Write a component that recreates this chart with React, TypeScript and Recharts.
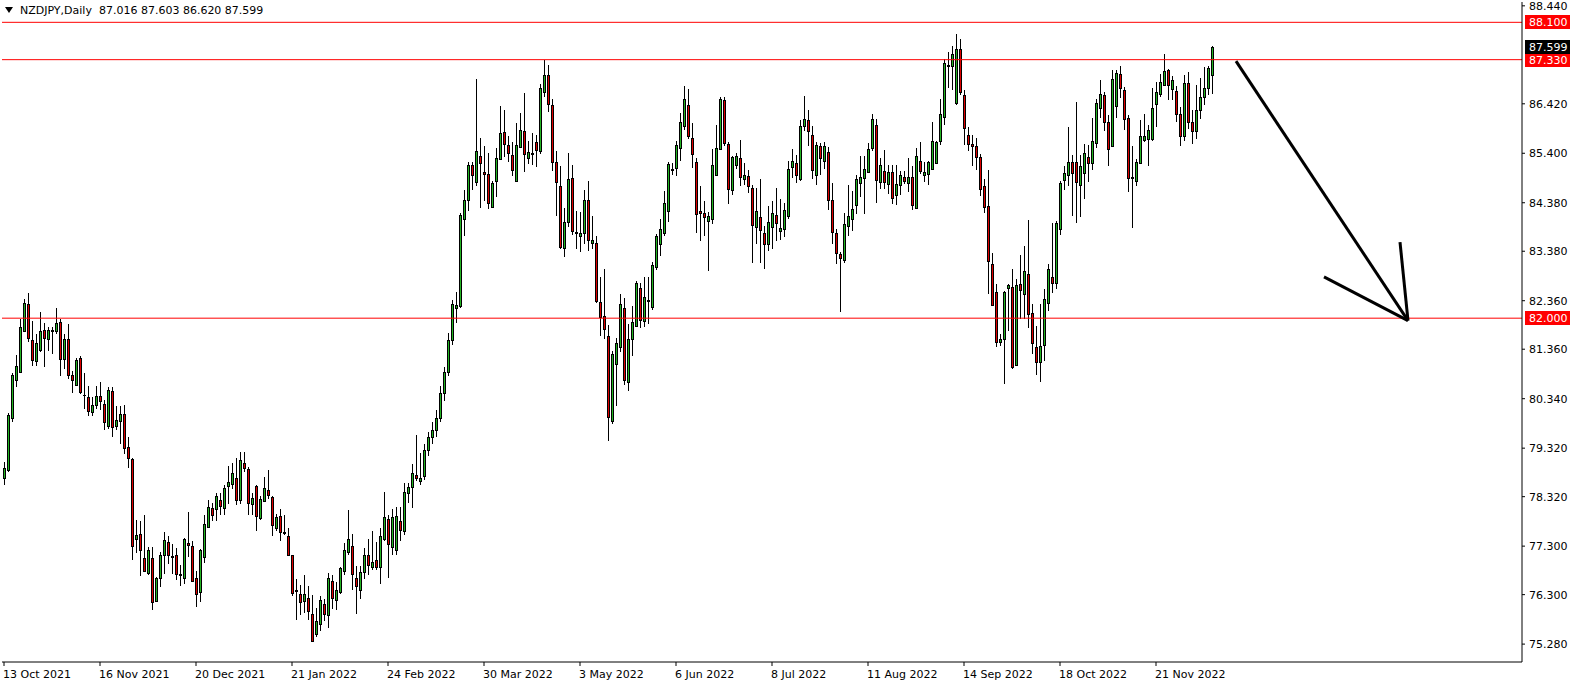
import React from 'react';
import { ComposedChart, Bar, XAxis, YAxis, ReferenceLine } from 'recharts';

// daily candles, 13 Oct 2021 .. Dec 2022
const opens = [
  78.71, 78.87, 79.94, 80.73, 80.88, 81.74, 82.29, 81.55, 81.12, 81.35, 81.75, 81.57, 81.73, 81.74, 81.93, 81.16, 81.58, 80.82, 80.62, 81.18,
  80.42, 80.37, 80.06, 80.20, 80.39, 80.23, 79.78, 80.49, 79.78, 79.89, 80.03, 79.34, 79.10, 77.45, 77.54, 77.06, 76.74, 77.06, 76.16, 76.64,
  77.11, 77.39, 77.09, 77.12, 76.72, 76.65, 77.36, 77.31, 76.64, 76.35, 77.08, 77.70, 78.09, 78.06, 78.26, 78.09, 78.54, 78.59, 78.71, 78.25,
  79.02, 78.90, 78.16, 78.54, 77.89, 78.23, 78.45, 78.32, 77.67, 77.93, 77.60, 77.50, 77.11, 76.39, 76.31, 76.16, 76.24, 75.90, 75.48, 75.70,
  76.10, 75.89, 76.59, 76.18, 76.35, 76.79, 77.17, 77.31, 76.64, 76.40, 76.76, 77.12, 76.86, 77.02, 76.88, 77.45, 77.85, 77.29, 77.22, 77.82,
  77.61, 78.40, 78.52, 78.76, 78.64, 78.75, 79.28, 79.55, 79.70, 79.95, 80.45, 80.90, 81.55, 82.20, 82.25, 84.05, 84.43, 85.16, 84.80, 85.35,
  85.01, 84.97, 84.30, 84.82, 85.28, 85.83, 85.57, 85.37, 84.82, 85.53, 85.86, 85.30, 85.41, 85.63, 85.44, 86.67, 87.01, 86.39, 85.22, 84.73,
  83.45, 83.99, 84.89, 83.78, 83.70, 83.76, 84.44, 83.55, 83.55, 82.34, 82.05, 81.64, 79.89, 81.06, 81.41, 82.22, 80.68, 81.58, 81.84, 82.63,
  81.95, 82.37, 82.23, 83.06, 83.53, 83.76, 84.21, 85.08, 85.10, 85.50, 85.96, 86.40, 85.71, 85.23, 84.20, 84.17, 84.00, 84.05, 84.96, 85.49,
  86.50, 85.59, 84.64, 85.15, 85.30, 84.87, 84.94, 84.68, 83.88, 84.09, 83.75, 83.52, 83.88, 84.12, 83.80, 83.84, 84.10, 85.12, 85.20, 84.86,
  85.97, 86.09, 85.78, 84.96, 85.55, 85.25, 85.42, 84.44, 83.76, 83.33, 83.20, 83.90, 84.05, 84.34, 84.79, 84.89, 85.01, 85.51, 85.98, 84.81,
  85.03, 84.77, 85.01, 84.55, 84.75, 84.92, 84.79, 84.91, 84.27, 85.25, 84.96, 84.97, 85.08, 85.20, 85.66, 86.14, 87.22, 87.20, 86.44, 87.55,
  86.60, 85.78, 85.59, 85.55, 85.32, 84.73, 84.31, 83.11, 82.53, 81.50, 81.57, 82.63, 82.65, 81.04, 82.70, 82.49, 82.92, 82.10, 81.40, 81.10,
  81.45, 82.32, 82.84, 82.72, 83.83, 84.85, 84.96, 85.22, 85.23, 84.75, 84.99, 85.32, 85.20, 85.61, 86.33, 86.61, 86.04, 85.54, 86.38, 87.03,
  86.70, 86.12, 84.92, 84.82, 85.20, 85.68, 85.70, 85.70, 86.41, 86.63, 86.81, 87.11, 86.72, 86.69, 86.20, 85.75, 86.84, 86.05, 85.85, 86.30,
  86.55, 86.74, 87.016,
];
const highs = [
  79.04, 80.04, 80.86, 81.24, 81.98, 82.39, 82.51, 81.95, 81.67, 82.12, 81.91, 81.82, 81.82, 82.22, 81.98, 81.67, 81.88, 80.92, 81.17, 81.21,
  80.86, 80.61, 80.37, 80.60, 80.68, 80.32, 80.58, 80.58, 80.19, 80.19, 80.21, 79.55, 79.11, 77.84, 77.82, 77.95, 77.29, 77.29, 76.66, 77.17,
  77.60, 77.50, 77.34, 77.26, 76.91, 77.46, 78.01, 77.41, 76.78, 77.24, 77.94, 78.25, 78.18, 78.39, 78.39, 78.57, 78.95, 79.02, 79.12, 79.24,
  79.25, 78.93, 78.39, 78.56, 78.34, 78.73, 78.87, 78.34, 77.97, 78.06, 77.95, 77.67, 77.12, 76.63, 76.50, 76.71, 76.47, 76.30, 76.02, 76.28,
  76.20, 76.75, 76.71, 76.56, 76.88, 77.36, 78.04, 77.56, 76.90, 76.90, 77.27, 77.44, 77.62, 77.38, 77.68, 78.41, 77.95, 78.06, 78.11, 78.11,
  78.61, 78.60, 79.00, 79.60, 79.23, 79.41, 79.65, 79.85, 80.10, 80.60, 81.00, 81.70, 82.38, 82.53, 84.16, 84.65, 85.23, 85.23, 86.93, 85.71,
  85.55, 85.40, 84.82, 85.51, 86.37, 86.29, 85.76, 85.64, 86.03, 86.24, 86.65, 85.66, 85.81, 85.78, 86.82, 87.32, 87.23, 86.52, 85.45, 85.14,
  84.27, 85.40, 85.16, 84.22, 84.19, 84.65, 84.82, 84.10, 83.69, 82.85, 83.01, 81.86, 81.32, 81.60, 82.49, 82.42, 81.89, 82.25, 82.77, 82.73,
  82.84, 82.84, 83.16, 83.73, 84.05, 84.63, 85.21, 85.20, 85.66, 86.24, 86.79, 86.72, 86.03, 85.30, 84.72, 84.41, 84.18, 85.49, 85.98, 86.57,
  86.55, 85.64, 85.35, 85.40, 85.68, 85.20, 85.06, 84.75, 84.68, 84.87, 83.90, 84.31, 84.41, 84.68, 84.45, 84.38, 85.25, 85.49, 85.37, 86.09,
  86.58, 86.29, 85.96, 85.64, 85.62, 85.64, 85.53, 84.79, 83.83, 83.36, 84.16, 84.75, 84.62, 84.96, 85.34, 85.35, 85.61, 86.22, 86.11, 85.30,
  85.47, 85.16, 85.16, 85.16, 85.03, 85.04, 85.30, 85.13, 85.51, 85.64, 85.23, 85.25, 86.04, 85.66, 86.52, 87.35, 87.48, 87.62, 87.85, 87.75,
  86.70, 85.95, 85.78, 85.71, 85.39, 84.87, 85.06, 83.35, 82.70, 81.67, 82.56, 82.70, 83.02, 82.80, 83.30, 83.49, 84.02, 82.29, 81.84, 82.29,
  82.61, 83.11, 83.97, 84.01, 84.82, 85.13, 85.95, 85.37, 86.46, 85.37, 85.59, 85.57, 86.12, 86.52, 86.91, 86.66, 86.18, 87.11, 87.11, 87.20,
  86.77, 86.18, 85.56, 85.29, 86.09, 86.22, 85.98, 86.74, 86.87, 87.03, 87.44, 87.13, 86.99, 86.79, 86.35, 87.01, 87.08, 86.30, 86.81, 86.96,
  87.18, 87.20, 87.603,
];
const lows = [
  78.56, 78.83, 79.86, 80.58, 80.88, 81.71, 81.50, 81.01, 81.01, 81.31, 81.00, 81.33, 81.26, 81.67, 80.80, 80.95, 80.75, 80.45, 80.61, 80.44,
  80.13, 79.98, 79.99, 80.12, 80.10, 79.69, 79.72, 79.55, 79.69, 79.41, 79.19, 78.91, 77.02, 77.15, 76.69, 76.76, 76.71, 75.99, 76.15, 76.45,
  76.72, 76.93, 76.72, 76.61, 76.47, 76.52, 77.08, 76.57, 76.04, 76.15, 76.95, 77.70, 77.82, 77.82, 77.94, 77.94, 78.16, 78.47, 78.15, 78.16,
  78.83, 77.94, 77.95, 77.61, 77.84, 78.20, 78.27, 77.50, 77.61, 77.41, 77.52, 77.09, 76.28, 75.78, 75.89, 75.92, 75.78, 75.33, 75.42, 75.55,
  75.76, 75.61, 76.01, 75.99, 76.31, 76.70, 77.12, 76.40, 75.90, 76.22, 76.63, 76.71, 76.81, 76.81, 76.52, 77.41, 76.65, 77.12, 77.12, 77.41,
  77.53, 78.18, 78.08, 78.64, 78.56, 78.66, 79.15, 79.40, 79.55, 79.85, 80.30, 80.80, 81.45, 81.91, 82.22, 83.69, 84.21, 84.65, 84.72, 84.27,
  84.41, 84.25, 84.27, 84.50, 85.28, 85.33, 85.23, 84.94, 84.82, 85.53, 85.01, 85.18, 85.16, 85.11, 85.38, 86.57, 86.26, 85.04, 84.10, 83.42,
  83.27, 83.88, 83.72, 83.42, 83.37, 83.52, 83.38, 83.42, 82.32, 81.64, 81.57, 79.47, 79.82, 80.18, 81.30, 80.63, 80.49, 81.23, 81.81, 81.79,
  81.81, 81.88, 82.17, 82.99, 83.28, 83.69, 83.98, 84.96, 84.94, 85.25, 85.87, 85.69, 85.09, 83.75, 83.59, 83.69, 82.97, 83.95, 84.94, 85.46,
  85.54, 84.36, 84.55, 85.07, 84.72, 84.75, 84.58, 83.14, 83.52, 83.14, 83.02, 83.38, 83.43, 83.59, 83.61, 83.68, 84.05, 84.89, 84.79, 84.82,
  85.85, 85.55, 84.87, 84.75, 84.96, 85.07, 84.23, 83.52, 83.11, 82.12, 83.14, 83.70, 83.80, 84.14, 84.49, 84.14, 84.99, 85.44, 84.38, 84.67,
  84.67, 84.56, 84.36, 84.34, 84.53, 84.77, 84.60, 84.24, 84.26, 84.97, 84.81, 84.75, 85.06, 85.18, 85.58, 85.98, 86.74, 86.70, 86.40, 86.60,
  85.57, 85.44, 85.13, 85.05, 84.51, 84.17, 82.49, 82.25, 81.40, 81.43, 80.65, 81.74, 80.95, 81.02, 81.99, 81.99, 81.79, 81.26, 80.83, 80.69,
  81.12, 82.15, 82.51, 82.60, 83.72, 84.65, 84.72, 84.10, 83.96, 84.08, 84.46, 84.81, 85.06, 85.50, 86.12, 85.86, 85.13, 85.52, 86.12, 86.53,
  85.88, 84.60, 83.85, 84.72, 85.18, 85.63, 85.13, 85.66, 85.95, 86.57, 86.79, 86.50, 86.50, 86.05, 85.55, 85.65, 85.90, 85.60, 85.70, 86.10,
  86.40, 86.60, 86.620,
];
const closes = [
  78.91, 80.01, 80.82, 81.01, 81.81, 82.31, 81.60, 81.14, 81.49, 81.74, 81.60, 81.76, 81.76, 81.91, 81.16, 81.58, 80.82, 80.73, 81.14, 80.47,
  80.41, 80.08, 80.21, 80.39, 80.29, 79.86, 80.52, 79.75, 79.91, 80.03, 79.32, 79.12, 77.31, 77.52, 77.22, 76.79, 77.21, 76.15, 76.65, 77.12,
  77.43, 77.12, 77.08, 76.73, 76.70, 77.44, 77.33, 76.59, 76.32, 77.22, 77.75, 78.11, 77.94, 78.34, 78.12, 78.50, 78.62, 78.80, 78.25, 79.07,
  78.91, 78.19, 78.30, 77.93, 78.28, 78.50, 78.35, 77.74, 77.91, 77.60, 77.57, 77.12, 76.34, 76.37, 76.14, 76.31, 75.97, 75.35, 75.75, 76.18,
  75.90, 76.65, 76.23, 76.39, 76.85, 77.21, 77.44, 76.73, 76.47, 76.76, 77.11, 76.91, 76.98, 76.88, 77.50, 77.91, 77.35, 77.91, 77.93, 77.63,
  78.42, 78.52, 78.81, 78.71, 78.71, 79.28, 79.55, 79.70, 79.95, 80.45, 80.90, 81.55, 82.30, 82.27, 84.12, 84.44, 85.16, 84.96, 85.44, 85.20,
  84.97, 84.38, 84.79, 85.30, 85.81, 85.59, 85.40, 85.05, 85.57, 85.88, 85.39, 85.42, 85.39, 85.46, 86.74, 87.02, 86.41, 85.23, 84.81, 83.46,
  83.99, 84.87, 83.79, 83.76, 83.75, 84.44, 83.61, 83.62, 82.36, 82.03, 81.77, 79.96, 81.27, 81.48, 82.29, 80.73, 81.58, 81.93, 82.72, 81.97,
  82.43, 82.35, 83.09, 83.69, 83.84, 84.38, 85.18, 85.06, 85.57, 86.04, 86.52, 85.76, 85.39, 84.14, 84.17, 84.09, 84.10, 85.16, 85.51, 86.51,
  85.62, 84.66, 85.32, 85.35, 84.91, 84.96, 84.72, 83.92, 84.22, 83.81, 83.52, 83.99, 84.17, 83.96, 83.86, 84.24, 85.07, 85.25, 84.96, 85.96,
  86.10, 85.85, 85.05, 85.57, 85.30, 85.55, 84.43, 83.77, 83.35, 83.25, 83.94, 84.10, 84.26, 84.86, 84.92, 85.08, 85.49, 86.10, 84.84, 85.16,
  84.81, 85.01, 84.48, 84.77, 84.96, 84.83, 84.91, 84.33, 85.35, 85.04, 85.02, 85.23, 85.66, 85.63, 86.20, 87.27, 87.20, 87.45, 87.55, 86.67,
  85.92, 85.59, 85.55, 85.32, 84.66, 84.29, 83.18, 82.27, 81.51, 81.58, 82.53, 82.68, 80.99, 82.68, 82.58, 82.97, 82.08, 81.48, 81.10, 81.43,
  82.39, 83.02, 82.72, 83.96, 84.79, 84.99, 85.22, 84.99, 84.81, 85.13, 85.40, 85.20, 85.66, 86.43, 86.63, 86.04, 85.48, 86.93, 87.05, 86.74,
  86.11, 84.89, 84.88, 85.23, 85.75, 85.76, 85.88, 86.33, 86.66, 86.86, 87.10, 86.81, 86.92, 86.20, 85.75, 86.84, 86.05, 85.85, 86.30, 86.55,
  86.74, 87.15, 87.599,
];

const xTickLabels = [
  '13 Oct 2021', '16 Nov 2021', '20 Dec 2021', '21 Jan 2022', '24 Feb 2022', '30 Mar 2022', '3 May 2022',
  '6 Jun 2022', '8 Jul 2022', '11 Aug 2022', '14 Sep 2022', '18 Oct 2022', '21 Nov 2022',
];
const xTickIndexes = [0, 24, 48, 72, 96, 120, 144, 168, 192, 216, 240, 264, 288];
const yTicks = [75.28, 76.3, 77.3, 78.32, 79.32, 80.34, 81.36, 82.36, 83.38, 84.38, 85.4, 86.42, 88.44];

const levels = [88.1, 87.33, 82.0];
const lastPrice = 87.599;
const arrowShaft = [{ x: 308, y: 87.3 }, { x: 351, y: 81.95 }];
const arrowWingA = [{ x: 330, y: 82.85 }, { x: 351, y: 81.95 }];
const arrowWingB = [{ x: 349, y: 83.57 }, { x: 351, y: 81.95 }];

const SLOTS = 380; // bars that fit in the visible window
const GREEN = '#22b422';
const RED = '#dd0000';
const FONT = 'DejaVu Sans';

const data = Array.from({ length: SLOTS }, (_, i) =>
  i < opens.length
    ? { i, open: opens[i], high: highs[i], low: lows[i], close: closes[i], range: [lows[i], highs[i]] }
    : { i }
);

function Candle(props: any) {
  const { x, width, y, height, payload } = props;
  if (!payload || payload.open == null) return null;
  const { open, close, high, low } = payload;
  const top = Math.min(y, y + height);
  const k = high > low ? Math.abs(height) / (high - low) : 0;
  const py = (v: number) => Math.round(top + (high - v) * k);
  const cx = Math.round(x + width / 2);
  const yH = py(high);
  const yL = py(low);
  const bTop = py(Math.max(open, close));
  const bBot = py(Math.min(open, close));
  const bh = Math.max(bBot - bTop, 0);
  return (
    <g shapeRendering="crispEdges">
      <rect x={cx} y={yH} width={1} height={Math.max(yL - yH, 1)} fill="#000" />
      <rect x={cx - 1} y={bTop} width={3} height={bh + 1} fill="#000" />
      {bh >= 2 && (
        <rect x={cx} y={bTop + 1} width={1} height={bh - 1} fill={close >= open ? GREEN : RED} />
      )}
    </g>
  );
}

function PriceTag({ viewBox, text, bg }: any) {
  if (!viewBox) return null;
  const x = viewBox.x + viewBox.width + 3;
  const y = Math.round(viewBox.y);
  return (
    <g shapeRendering="crispEdges">
      <rect x={x} y={y - 7} width={45} height={14} fill={bg} />
      <text x={x + 4} y={y} dy="0.36em" fill="#fff" fontSize={11} fontFamily={FONT}>
        {text}
      </text>
    </g>
  );
}

function DateTick({ x, y, payload }: any) {
  const idx = xTickIndexes.indexOf(payload.value);
  return (
    <text x={x - 1} y={y + 2} dy="0.71em" textAnchor="start" fill="#000" fontSize={11} fontFamily={FONT}>
      {idx >= 0 ? xTickLabels[idx] : ''}
    </text>
  );
}

export default function App() {
  return (
    <div style={{ position: 'absolute', left: 0, top: 0, width: 1580, height: 686, background: '#fff' }}>
      <ComposedChart
        width={1580}
        height={686}
        data={data}
        margin={{ top: 2, right: 0, bottom: 0, left: 2 }}
        barCategoryGap={0}
        barGap={0}
      >
        <XAxis
          xAxisId="x"
          dataKey="i"
          type="category"
          ticks={xTickIndexes}
          interval={0}
          height={24}
          tickSize={4}
          tick={<DateTick />}
          axisLine={{ stroke: '#000' }}
          tickLine={{ stroke: '#000' }}
        />
        <XAxis xAxisId="top" dataKey="i" orientation="top" height={0} tick={false} tickLine={false} axisLine={{ stroke: '#000' }} />
        <YAxis
          yAxisId="y"
          orientation="right"
          width={58}
          domain={[74.911, 88.519]}
          allowDataOverflow
          ticks={yTicks}
          interval={0}
          tickSize={3}
          tickMargin={4}
          tickFormatter={(v: number) => v.toFixed(3)}
          tick={{ fill: '#000', fontSize: 11, fontFamily: FONT, textAnchor: 'start' }}
          axisLine={{ stroke: '#000' }}
          tickLine={{ stroke: '#000' }}
        />
        <YAxis yAxisId="left" orientation="left" width={0} domain={[74.911, 88.519]} tick={false} tickLine={false} axisLine={{ stroke: '#000' }} />

        {levels.map((lv) => (
          <ReferenceLine
            key={lv}
            xAxisId="x"
            yAxisId="y"
            y={lv}
            stroke="#ff0000"
            strokeWidth={1}
            label={<PriceTag text={lv.toFixed(3)} bg="#ff0000" />}
          />
        ))}
        <ReferenceLine
          xAxisId="x"
          yAxisId="y"
          y={lastPrice}
          stroke="#000"
          strokeOpacity={0}
          label={<PriceTag text={lastPrice.toFixed(3)} bg="#000" />}
        />

        <Bar xAxisId="x" yAxisId="y" dataKey="range" shape={<Candle />} isAnimationActive={false} />

        <ReferenceLine xAxisId="x" yAxisId="y" segment={arrowShaft} stroke="#000" strokeWidth={3} />
        <ReferenceLine xAxisId="x" yAxisId="y" segment={arrowWingA} stroke="#000" strokeWidth={3} />
        <ReferenceLine xAxisId="x" yAxisId="y" segment={arrowWingB} stroke="#000" strokeWidth={3} />
      </ComposedChart>

      <div
        style={{
          position: 'absolute',
          left: 5,
          top: 4,
          fontFamily: FONT,
          fontSize: 11,
          color: '#000',
          whiteSpace: 'pre',
          display: 'flex',
          alignItems: 'center',
        }}
      >
        <svg width={9} height={7} style={{ marginRight: 6 }}>
          <polygon points="0,0 8,0 4,6" fill="#000" />
        </svg>
        <span>NZDJPY,Daily  87.016 87.603 86.620 87.599</span>
      </div>
    </div>
  );
}
